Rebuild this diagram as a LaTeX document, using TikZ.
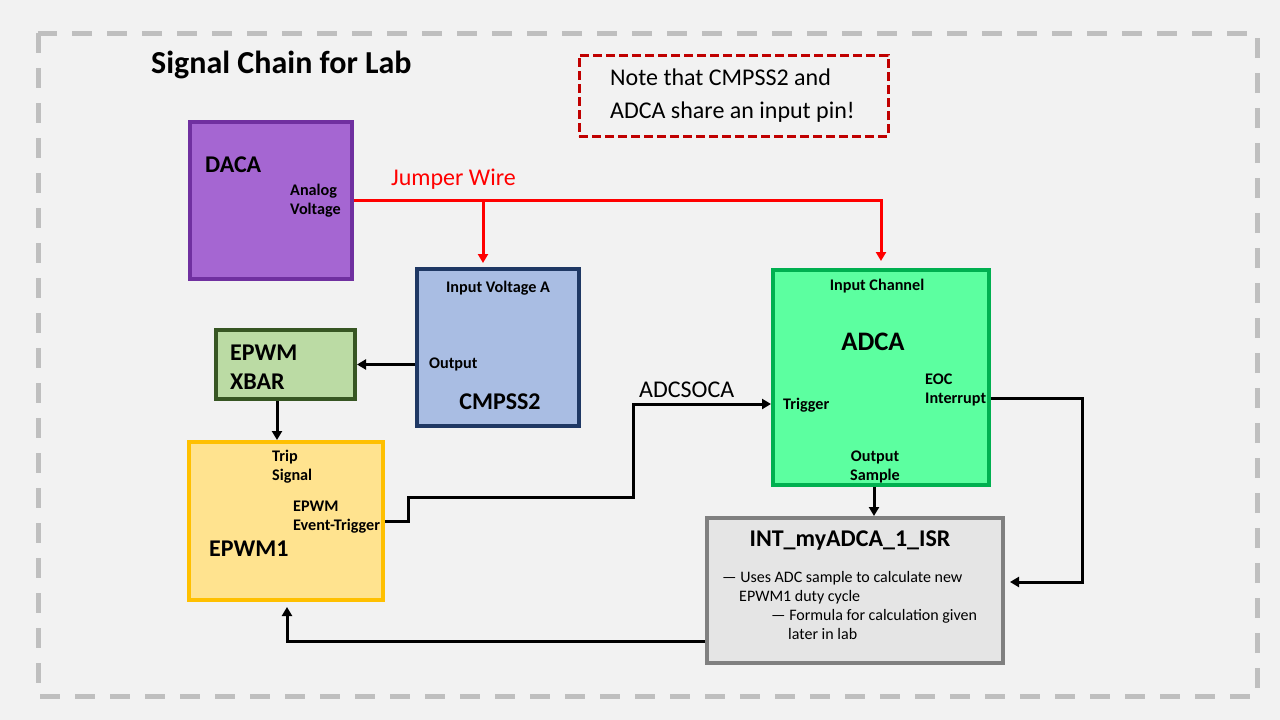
\documentclass[tikz,border=0pt]{standalone}
\usepackage{fontspec}
\setmainfont{Carlito}
\usetikzlibrary{arrows.meta}
\definecolor{bg}{HTML}{F2F2F2}
\definecolor{frame}{HTML}{BFBFBF}
\definecolor{dacafill}{HTML}{A566D2}
\definecolor{dacadraw}{HTML}{7030A0}
\definecolor{cmpfill}{HTML}{A9BDE3}
\definecolor{cmpdraw}{HTML}{1F3864}
\definecolor{xbarfill}{HTML}{BBDBA4}
\definecolor{xbardraw}{HTML}{375623}
\definecolor{epwmfill}{HTML}{FFE38F}
\definecolor{epwmdraw}{HTML}{FFC000}
\definecolor{adcfill}{HTML}{5CFFA0}
\definecolor{adcdraw}{HTML}{00B050}
\definecolor{isrfill}{HTML}{E5E5E5}
\definecolor{isrdraw}{HTML}{808080}
\definecolor{notered}{HTML}{C00000}
\definecolor{wire}{HTML}{FF0000}
\tikzset{
  blk/.style={draw, line width=4pt, inner sep=0pt, rectangle},
  big/.style={font=\fontsize{24}{28}\selectfont\bfseries, inner sep=0pt},
  small/.style={font=\fontsize{16.2}{19}\selectfont\bfseries, inner sep=0pt, align=left},
  conn/.style={line width=3pt, -{Triangle[length=9pt,width=10pt]}},
  redconn/.style={line width=3pt, wire, -{Triangle[length=9pt,width=10pt]}},
}
\begin{document}
\begin{tikzpicture}[x=1pt,y=-1pt]
\useasboundingbox (0,0) rectangle (1280,720);
\fill[bg] (0,0) rectangle (1280,720);
\draw[frame, line width=5pt, dash pattern=on 20pt off 15pt] (38,33) rectangle (1257,696);

\node[anchor=west, font=\fontsize{32}{36}\selectfont\bfseries, inner sep=0pt] (title) at (151,65) {Signal Chain for Lab};

\node[draw=notered, line width=3pt, dash pattern=on 9pt off 4pt, minimum width=309pt, minimum height=81pt, inner sep=0pt] (note) at (733.5,95.5) {};
\node[anchor=west, font=\fontsize{24}{33}\selectfont, align=left, inner sep=0pt] (notetxt) at (610,96) {Note that CMPSS2 and\\ADCA share an input pin!};

% blocks
\node[blk, fill=dacafill, draw=dacadraw, minimum width=162pt, minimum height=157pt] (daca) at (271,200.5) {};
\node[blk, fill=cmpfill, draw=cmpdraw, minimum width=162pt, minimum height=157pt] (cmpss) at (498,347.5) {};
\node[blk, fill=xbarfill, draw=xbardraw, minimum width=139pt, minimum height=69pt] (xbar) at (285.5,364.5) {};
\node[blk, fill=epwmfill, draw=epwmdraw, minimum width=194pt, minimum height=158pt] (epwm) at (286,521) {};
\node[blk, fill=adcfill, draw=adcdraw, minimum width=216pt, minimum height=215pt] (adca) at (881,377.5) {};
\node[blk, fill=isrfill, draw=isrdraw, minimum width=296pt, minimum height=145pt] (isr) at (855,590.5) {};

% labels
\node[big, anchor=west] (dacalbl) at (205,165) {DACA};
\node[small, anchor=north west] (analog) at (290,183.5) {Analog\\Voltage};
\node[anchor=west, font=\fontsize{24}{28}\selectfont, text=wire, inner sep=0pt] (jw) at (391,179) {Jumper Wire};

\node[small, anchor=center] (inva) at (498,288) {Input Voltage A};
\node[small, anchor=west] (cmpout) at (429,364) {Output};
\node[big, anchor=center] (cmplbl) at (500,402) {CMPSS2};

\node[big, anchor=north west, align=left, font=\fontsize{24}{29}\selectfont\bfseries] (xbarlbl) at (230,345) {EPWM\\XBAR};

\node[small, anchor=north west] (trip) at (272,449.5) {Trip\\Signal};
\node[small, anchor=north west] (evt) at (293,500.5) {EPWM\\Event-Trigger};
\node[big, anchor=west] (epwmlbl) at (209,549) {EPWM1};

\node[small, anchor=center] (inch) at (877,286) {Input Channel};
\node[anchor=center, font=\fontsize{26.7}{30}\selectfont\bfseries, inner sep=0pt] (adcalbl) at (873,342) {ADCA};
\node[small, anchor=west] (trig) at (783,405) {Trigger};
\node[small, anchor=north west] (eocl) at (925,373.5) {EOC\\Interrupt};
\node[small, anchor=north, align=center] (osmp) at (875,450.5) {Output\\Sample};

\node[anchor=west, font=\fontsize{24}{28}\selectfont, inner sep=0pt] (soclbl) at (639,390) {ADCSOCA};

\node[big, anchor=center] (isrlbl) at (850,541) {INT\_myADCA\_1\_ISR};
\node[anchor=north west, font=\fontsize{16}{19}\selectfont, align=left, inner sep=0pt] (b1) at (722,571) {— Uses ADC sample to calculate new\\\hspace*{17pt}EPWM1 duty cycle};
\node[anchor=north west, font=\fontsize{16}{19}\selectfont, align=left, inner sep=0pt] (b2) at (771,609) {— Formula for calculation given\\\hspace*{17pt}later in lab};

% coordinates
\coordinate (jct) at (483,200);
\coordinate (sx) at (277,0);
\coordinate (soc) at (633,404);
\coordinate (eoc) at (1082,398);
\coordinate (eocb) at (1082,582);
\coordinate (osx) at (874,0);
\coordinate (fb) at (287,641);

% red jumper wire
\draw[redconn, shorten >=7pt] (daca.east) -| (adca.north);
\draw[redconn, shorten >=4pt] (jct) -- (jct |- cmpss.north);

% black connectors
\draw[conn] (cmpss.west |- xbar.east) -- (xbar.east);
\draw[conn] (sx |- xbar.south) -- (sx |- epwm.north);
\draw[conn] (epwm.east) -- ++(23,0) -- ++(0,-24) -| (soc) -- (soc -| adca.west);
\draw[conn] (osx |- adca.south) -- (osx |- isr.north);
\draw[conn, shorten >=5pt] (eoc -| adca.east) -- (eoc) -- (eocb) -- (eocb -| isr.east);
\draw[conn, shorten >=5pt] (fb -| isr.west) -- (fb) -- (fb |- epwm.south);
\end{tikzpicture}
\end{document}
